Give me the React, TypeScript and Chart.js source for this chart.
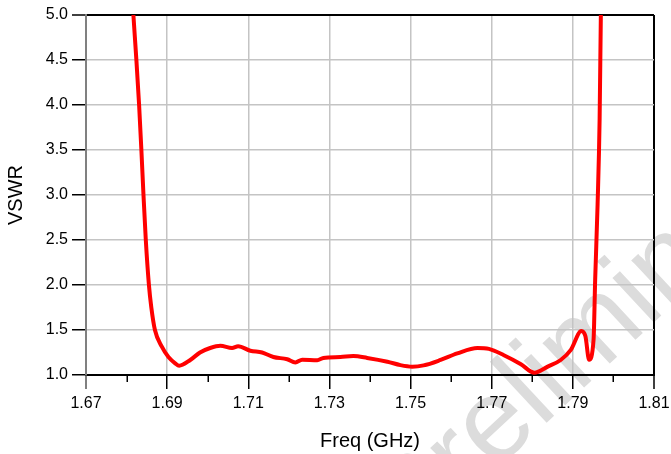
import React, { useEffect, useRef } from "react";
import { Chart, registerables } from "chart.js";

Chart.register(...registerables);

const FREQ_GHZ = [
  1.6810, 1.68168, 1.68242, 1.68309, 1.68365, 1.68417, 1.68474, 1.68551, 1.6861, 1.68699,
  1.68869, 1.69032, 1.69198, 1.69296, 1.6957, 1.6981, 1.7006, 1.7031, 1.706, 1.7075,
  1.7105, 1.7134, 1.7162, 1.7196, 1.7216, 1.7233, 1.727, 1.7285, 1.7327, 1.7359,
  1.7393, 1.7443, 1.7475, 1.7504, 1.7532, 1.7574, 1.7615, 1.7665, 1.7693, 1.773,
  1.7772, 1.7805, 1.7838, 1.787, 1.7895, 1.7921, 1.7931, 1.794, 1.7951, 1.7955,
  1.7961, 1.7966, 1.7969, 1.7971,
];

const VSWR = [
  5.5, 5.0, 4.5, 4.0, 3.5, 3.0, 2.5, 2.0, 1.75, 1.5,
  1.315, 1.2, 1.13, 1.103, 1.167, 1.25, 1.3, 1.325, 1.3, 1.32,
  1.27, 1.25, 1.2, 1.175, 1.14, 1.17, 1.165, 1.19, 1.2, 1.21,
  1.19, 1.148, 1.11, 1.093, 1.107, 1.167, 1.24, 1.3, 1.29, 1.22,
  1.12, 1.025, 1.093, 1.167, 1.28, 1.49, 1.43, 1.17, 1.39, 2.06,
  2.9, 3.85, 5.0, 5.5,
];

const X_MIN = 1.67;
const X_MAX = 1.81;
const X_STEP = 0.01;
const Y_MIN = 1.0;
const Y_MAX = 5.0;
const Y_STEP = 0.5;
const X_TITLE = "Freq (GHz)";
const Y_TITLE = "VSWR";
const WATERMARK = "Preliminary";

const FONT = '"Liberation Sans", Arial, sans-serif';
const GRID = "#c4c4c4";

const hundredths = (v: number) => Math.round(Number(v) * 100);
const isMajorX = (v: number) => Math.abs(hundredths(v)) % 2 === 1;

const watermarkPlugin = {
  id: "watermark",
  beforeDraw(chart: any) {
    const ctx = chart.ctx;
    ctx.save();
    ctx.translate(410, 550);
    ctx.rotate((-43 * Math.PI) / 180);
    ctx.font = `115px ${FONT}`;
    ctx.fillStyle = "#dcdcdc";
    ctx.textBaseline = "alphabetic";
    ctx.textAlign = "left";
    ctx.fillText(WATERMARK, 0, 0);
    ctx.restore();
  },
};

const minorTickPlugin = {
  id: "minorTicks",
  afterDraw(chart: any) {
    const xs = chart.scales.x;
    const ctx = chart.ctx;
    const bottom = chart.chartArea.bottom;
    ctx.save();
    ctx.strokeStyle = "#000";
    ctx.lineWidth = 1.5;
    xs.ticks.forEach((t: any) => {
      if (!isMajorX(t.value)) {
        const px = Math.round(xs.getPixelForValue(t.value)) + 0.25;
        ctx.beginPath();
        ctx.moveTo(px, bottom);
        ctx.lineTo(px, bottom + 7);
        ctx.stroke();
      }
    });
    ctx.restore();
  },
};

export default function App() {
  const ref = useRef<HTMLCanvasElement | null>(null);

  useEffect(() => {
    if (!ref.current) return;
    Chart.defaults.font.family = FONT;
    const points = FREQ_GHZ.map((f, i) => ({ x: f, y: VSWR[i] }));
    const chart = new Chart(ref.current, {
      type: "line",
      data: {
        datasets: [
          {
            data: points,
            borderColor: "#ff0000",
            backgroundColor: "#ff0000",
            borderWidth: 4,
            pointRadius: 0,
            cubicInterpolationMode: "monotone",
            fill: false,
          },
        ],
      },
      options: {
        animation: false,
        responsive: false,
        layout: { padding: { top: 15, right: 17, left: 0, bottom: 0 } },
        plugins: { legend: { display: false }, tooltip: { enabled: false } },
        scales: {
          x: {
            type: "linear",
            min: X_MIN,
            max: X_MAX,
            afterFit: (s: any) => {
              s.height = 79;
              s.paddingLeft = 0;
              s.paddingRight = 0;
            },
            ticks: {
              stepSize: X_STEP,
              autoSkip: false,
              maxRotation: 0,
              minRotation: 0,
              padding: 5,
              color: "#000",
              font: { size: 16, family: FONT },
              callback: (v: any) => (isMajorX(v) ? Number(v).toFixed(2) : ""),
            },
            grid: {
              tickLength: 14,
              color: (c: any) => {
                const h = hundredths(c.tick.value);
                if (h === 167) return "#808080";
                if (h === 181) return "#000";
                return isMajorX(c.tick.value) ? GRID : "rgba(0,0,0,0)";
              },
              lineWidth: (c: any) => {
                const h = hundredths(c.tick.value);
                return h === 167 || h === 181 ? 2 : 1.5;
              },
              tickColor: (c: any) => {
                const h = hundredths(c.tick.value);
                if (h === 167) return "#808080";
                return isMajorX(c.tick.value) ? "#000" : "rgba(0,0,0,0)";
              },
              tickWidth: (c: any) => (hundredths(c.tick.value) === 167 ? 2 : 1.5),
            },
            border: { color: "#000", width: 2 },
            title: {
              display: true,
              text: X_TITLE,
              color: "#000",
              font: { size: 20, family: FONT },
              padding: { top: 0, bottom: 1 },
            },
          },
          y: {
            type: "linear",
            min: Y_MIN,
            max: Y_MAX,
            afterFit: (s: any) => {
              s.width = 86;
              s.paddingTop = 0;
              s.paddingBottom = 0;
            },
            ticks: {
              stepSize: Y_STEP,
              autoSkip: false,
              padding: 4,
              color: "#000",
              font: { size: 16, family: FONT },
              callback: (v: any) => Number(v).toFixed(1),
            },
            grid: {
              tickLength: 14,
              color: (c: any) => {
                const v = Number(c.tick.value);
                if (Math.abs(v - Y_MAX) < 1e-6) return "#000";
                if (Math.abs(v - Y_MIN) < 1e-6) return "rgba(0,0,0,0)";
                return GRID;
              },
              lineWidth: (c: any) =>
                Math.abs(Number(c.tick.value) - Y_MAX) < 1e-6 ? 2 : 1.5,
              tickColor: "#000",
              tickWidth: 1.5,
            },
            border: { color: "#808080", width: 2 },
            title: {
              display: true,
              text: Y_TITLE,
              color: "#000",
              font: { size: 20, family: FONT },
              padding: { top: 4, bottom: 0 },
            },
          },
        },
      },
      plugins: [watermarkPlugin, minorTickPlugin],
    } as any);
    return () => chart.destroy();
  }, []);

  return (
    <div style={{ position: "fixed", left: 0, top: 0, width: 671, height: 454, background: "#fff" }}>
      <canvas ref={ref} width={671} height={454} style={{ display: "block" }} />
    </div>
  );
}
